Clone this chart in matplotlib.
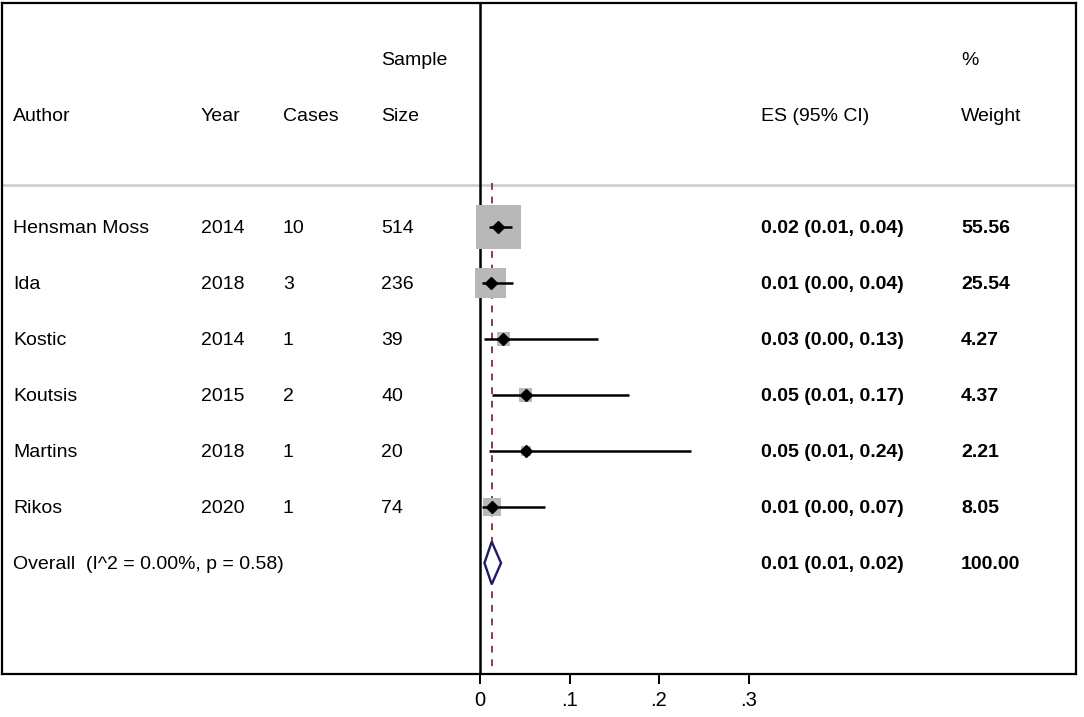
import matplotlib
matplotlib.use("Agg")
import matplotlib.pyplot as plt
import matplotlib.transforms as mtransforms
from matplotlib.patches import Polygon
import numpy as np

plt.rcParams['font.family'] = ['Liberation Sans', 'DejaVu Sans']

# ---- data ----
authors = ["Hensman Moss", "Ida", "Kostic", "Koutsis", "Martins", "Rikos"]
years = ["2014", "2018", "2014", "2015", "2018", "2020"]
cases = ["10", "3", "1", "2", "1", "1"]
sample_sizes = ["514", "236", "39", "40", "20", "74"]
es = [0.0205, 0.012, 0.026, 0.051, 0.051, 0.0138]
ci_low = [0.010, 0.002, 0.005, 0.0138, 0.010, 0.0026]
ci_high = [0.036, 0.037, 0.132, 0.166, 0.236, 0.073]
es_labels = ["0.02 (0.01, 0.04)", "0.01 (0.00, 0.04)", "0.03 (0.00, 0.13)",
             "0.05 (0.01, 0.17)", "0.05 (0.01, 0.24)", "0.01 (0.00, 0.07)"]
weights = [55.56, 25.54, 4.27, 4.37, 2.21, 8.05]
weight_labels = ["55.56", "25.54", "4.27", "4.37", "2.21", "8.05"]
overall_label = "Overall  (I^2 = 0.00%, p = 0.58)"
overall_es = 0.0131
overall_low = 0.005
overall_high = 0.0235
overall_es_label = "0.01 (0.01, 0.02)"
overall_weight_label = "100.00"
xticks = [0, 0.1, 0.2, 0.3]
xtick_labels = ["0", ".1", ".2", ".3"]

W, H = 1084, 717
fig = plt.figure(figsize=(W / 100, H / 100), dpi=100)
ax = fig.add_axes([2 / W, (H - 674) / H, (1076 - 2) / W, (674 - 3) / H])

px_per_unit = 895.0
ax.set_xlim((2 - 480) / px_per_unit, (1076 - 480) / px_per_unit)
row_px = 56.0
ax.set_ylim((674 - 227) / row_px, (3 - 227) / row_px)

for s in ax.spines.values():
    s.set_linewidth(1.6)
    s.set_color("black")
ax.set_yticks([])
ax.set_xticks(xticks)
ax.set_xticklabels(xtick_labels, fontsize=14.5)
ax.tick_params(axis='x', length=7, width=1.4, pad=5)

n = len(authors)
rows = np.arange(n)

# header separator
ax.axhline(-0.75, xmin=0, xmax=(1073 - 2) / (1076 - 2), color="#cccccc", lw=1.8, zorder=1)

# zero line
ax.axvline(0, color="black", lw=1.8, zorder=2)

# overall dashed line
ax.plot([overall_es, overall_es], [-0.78, (674 - 227) / row_px], color="#8b3a4e",
        lw=1.4, ls=(0, (3.5, 3.5)), zorder=2)

# weight squares (area proportional to weight)
side_px = 43 * np.sqrt(np.array(weights) / weights[0]) + 1.5
ax.scatter(es, rows, marker='s', s=(side_px * 0.72) ** 2, color="#b8b8b8",
           edgecolors='none', zorder=3)

# CI lines
for i in range(n):
    ax.plot([ci_low[i], ci_high[i]], [rows[i], rows[i]], color="black", lw=1.8,
            zorder=4, solid_capstyle='butt')

# point estimates
ax.plot(es, rows, ls='none', marker='D', ms=6.3, color="black", zorder=5)

# overall diamond
yo = n
dh = 0.38
diamond = Polygon([[overall_low, yo], [overall_es, yo - dh], [overall_high, yo],
                   [overall_es, yo + dh]], closed=True, facecolor="white",
                  edgecolor="#1c1c6b", lw=1.7, zorder=5)
ax.add_patch(diamond)

# text columns
trans = mtransforms.blended_transform_factory(fig.transFigure, ax.transData)
fs = 14
col_author, col_year, col_cases, col_size = 13 / W, 201 / W, 283 / W, 381 / W
col_es, col_w = 761 / W, 961 / W
dy = 0.035

def txt(x, y, s, bold=False):
    ax.text(x, y + dy, s, transform=trans, fontsize=fs, va='center', ha='left',
            fontweight='bold' if bold else 'normal', color="black", clip_on=False)

hdr = -2.0
txt(col_author, hdr, "Author")
txt(col_year, hdr, "Year")
txt(col_cases, hdr, "Cases")
txt(col_size, hdr - 1, "Sample")
txt(col_size, hdr, "Size")
txt(col_es, hdr, "ES (95% CI)")
txt(col_w, hdr - 1, "%")
txt(col_w, hdr, "Weight")

for i in range(n):
    txt(col_author, rows[i], authors[i])
    txt(col_year, rows[i], years[i])
    txt(col_cases, rows[i], cases[i])
    txt(col_size, rows[i], sample_sizes[i])
    txt(col_es, rows[i], es_labels[i], bold=True)
    txt(col_w, rows[i], weight_labels[i], bold=True)

txt(col_author, yo, overall_label)
txt(col_es, yo, overall_es_label, bold=True)
txt(col_w, yo, overall_weight_label, bold=True)

fig.savefig("out.png", dpi=100, facecolor="white")
